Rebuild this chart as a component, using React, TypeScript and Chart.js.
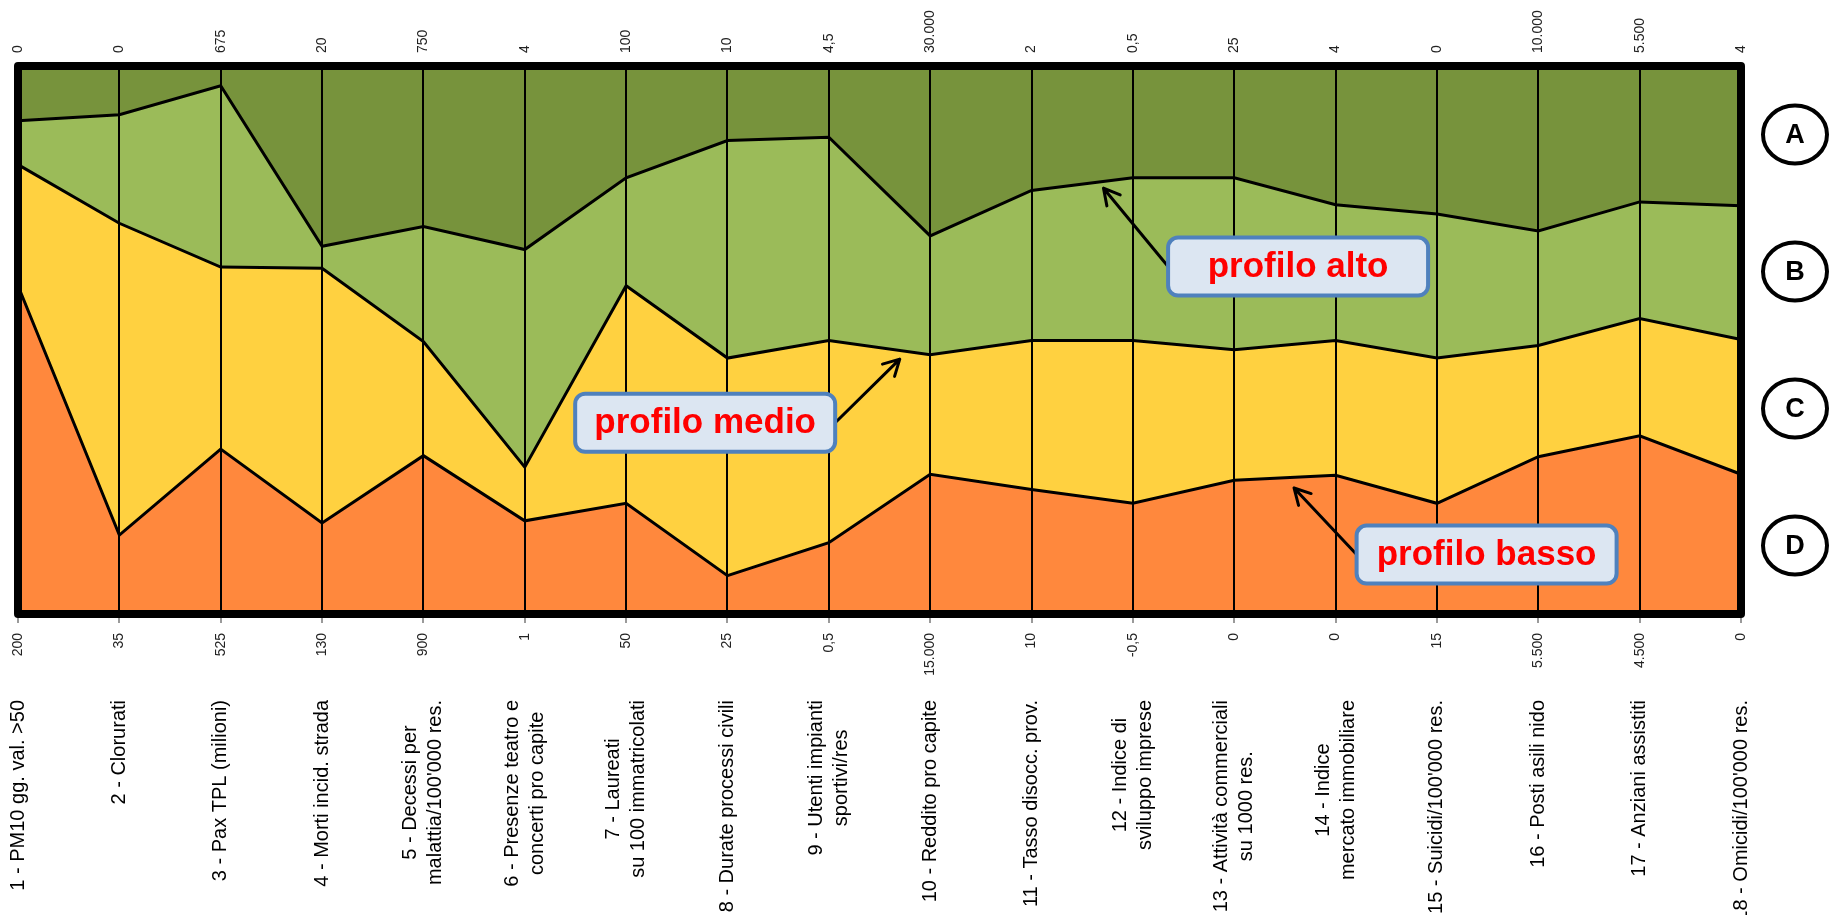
import React, { useEffect, useRef } from 'react';
import { Chart, registerables } from 'chart.js';

Chart.register(...registerables);

// ---------- data ----------
const categories: string[][] = [
  ['1 - PM10 gg. val. >50'],
  ['2 - Clorurati'],
  ['3 - Pax TPL (milioni)'],
  ['4 - Morti incid. strada'],
  ['5 - Decessi per', "malattia/100'000 res."],
  ['6 - Presenze teatro e', 'concerti pro capite'],
  ['7 - Laureati', 'su 100 immatricolati'],
  ['8 - Durate processi civili'],
  ['9 - Utenti impianti', 'sportivi/res'],
  ['10 - Reddito pro capite'],
  ['11 - Tasso disocc. prov.'],
  ['12 - Indice di', 'sviluppo imprese'],
  ['13 - Attività commerciali', 'su 1000 res.'],
  ['14 - Indice', 'mercato immobiliare'],
  ["15 - Suicidi/100'000 res."],
  ['16 - Posti asili nido'],
  ['17 - Anziani assistiti'],
  ["18 - Omicidi/100'000 res."],
];

const topTicks = ['0', '0', '675', '20', '750', '4', '100', '10', '4,5', '30.000', '2', '0,5', '25', '4', '0', '10.000', '5.500', '4'];
const bottomTicks = ['200', '35', '525', '130', '900', '1', '50', '25', '0,5', '15.000', '10', '-0,5', '0', '0', '15', '5.500', '4.500', '0'];

const profiloAlto = [90.0, 91.1, 96.4, 67.1, 70.7, 66.5, 79.6, 86.4, 87.0, 69.0, 77.3, 79.6, 79.6, 74.7, 73.0, 69.9, 75.2, 74.5];
const profiloMedio = [82.0, 71.3, 63.3, 63.1, 49.7, 26.8, 59.9, 46.7, 49.9, 47.3, 49.9, 49.9, 48.2, 49.9, 46.7, 49.0, 53.9, 50.1];
const profiloBasso = [59.9, 14.4, 30.1, 16.6, 28.9, 17.0, 20.2, 7.0, 13.0, 25.5, 22.7, 20.2, 24.4, 25.3, 20.2, 28.7, 32.5, 25.5];

const bandLabels = ['A', 'B', 'C', 'D'];

// callouts: box centre and arrow tip in data coordinates (category index, value)
const calloutTexts = ['profilo alto', 'profilo medio', 'profilo basso'];
const calloutBoxX = [12.63, 6.78, 14.49];
const calloutBoxY = [63.4, 34.9, 10.85];
const calloutTipX = [10.71, 8.70, 12.59];
const calloutTipY = [77.7, 46.5, 23.0];

// ---------- style ----------
const COL_TOP = '#77933C';
const COL_HIGH = '#9BBB59';
const COL_MID = '#FFD140';
const COL_LOW = '#FF883D';
const TICK_FONT = "'Liberation Sans', Arial, sans-serif";
const LABEL_FONT = "'Liberation Sans', Arial, sans-serif";
const TICK_SIZE = 14;

function roundRect(ctx: CanvasRenderingContext2D, x: number, y: number, w: number, h: number, r: number) {
  ctx.beginPath();
  ctx.moveTo(x + r, y);
  ctx.lineTo(x + w - r, y);
  ctx.arcTo(x + w, y, x + w, y + r, r);
  ctx.lineTo(x + w, y + h - r);
  ctx.arcTo(x + w, y + h, x + w - r, y + h, r);
  ctx.lineTo(x + r, y + h);
  ctx.arcTo(x, y + h, x, y + h - r, r);
  ctx.lineTo(x, y + r);
  ctx.arcTo(x, y, x + r, y, r);
  ctx.closePath();
}

const decorPlugin = {
  id: 'decor',
  beforeDraw(chart: any) {
    const { ctx, chartArea: a } = chart;
    ctx.save();
    ctx.fillStyle = COL_TOP;
    ctx.fillRect(a.left, a.top, a.right - a.left, a.bottom - a.top);
    ctx.restore();
  },
  afterDraw(chart: any) {
    const { ctx, chartArea: a, scales } = chart;
    const xs = scales.x;
    const ys = scales.y;
    ctx.save();

    // frame
    ctx.lineWidth = 8;
    ctx.strokeStyle = '#000';
    ctx.lineJoin = 'round';
    ctx.strokeRect(a.left, a.top, a.right - a.left, a.bottom - a.top);

    // category labels (rotated, multi-line centred)
    ctx.fillStyle = '#000';
    ctx.font = `20px ${LABEL_FONT}`;
    const lh = 25;
    const yTop = a.bottom + 86;
    categories.forEach((lines, i) => {
      const x = xs.getPixelForValue(i);
      const w = Math.max(...lines.map((l) => ctx.measureText(l).width));
      ctx.save();
      ctx.translate(x, yTop);
      ctx.rotate(-Math.PI / 2);
      ctx.textAlign = 'center';
      ctx.textBaseline = 'middle';
      lines.forEach((l, j) => {
        ctx.fillText(l, -w / 2, (j - (lines.length - 1) / 2) * lh);
      });
      ctx.restore();
    });

    // band circles A-D
    const bandH = (a.bottom - a.top) / bandLabels.length;
    const cx = a.right + 54;
    bandLabels.forEach((t, i) => {
      const cy = a.top + bandH * (i + 0.5);
      ctx.beginPath();
      ctx.ellipse(cx, cy, 32, 29, 0, 0, Math.PI * 2);
      ctx.fillStyle = '#fff';
      ctx.fill();
      ctx.lineWidth = 4;
      ctx.strokeStyle = '#000';
      ctx.stroke();
      ctx.fillStyle = '#000';
      ctx.font = `bold 27px ${LABEL_FONT}`;
      ctx.textAlign = 'center';
      ctx.textBaseline = 'middle';
      ctx.fillText(t, cx, cy + 1);
    });

    // callouts
    const bw = 260;
    const bh = 58;
    calloutTexts.forEach((t, i) => {
      const bx = xs.getPixelForValue(calloutBoxX[i]);
      const by = ys.getPixelForValue(calloutBoxY[i]);
      const tx = xs.getPixelForValue(calloutTipX[i]);
      const ty = ys.getPixelForValue(calloutTipY[i]);
      const sx = tx < bx ? bx - bw / 2 : bx + bw / 2;
      const sy = by;
      // arrow
      ctx.strokeStyle = '#000';
      ctx.lineWidth = 3;
      ctx.lineCap = 'round';
      ctx.beginPath();
      ctx.moveTo(sx, sy);
      ctx.lineTo(tx, ty);
      const ang = Math.atan2(sy - ty, sx - tx);
      const hl = 18;
      const spread = 0.5;
      ctx.moveTo(tx + hl * Math.cos(ang + spread), ty + hl * Math.sin(ang + spread));
      ctx.lineTo(tx, ty);
      ctx.lineTo(tx + hl * Math.cos(ang - spread), ty + hl * Math.sin(ang - spread));
      ctx.stroke();
      // box
      roundRect(ctx, bx - bw / 2, by - bh / 2, bw, bh, 10);
      ctx.fillStyle = '#DCE6F2';
      ctx.fill();
      ctx.lineWidth = 4;
      ctx.strokeStyle = '#4F81BD';
      ctx.stroke();
      ctx.fillStyle = '#FF0000';
      ctx.font = `bold 35px ${LABEL_FONT}`;
      ctx.textAlign = 'center';
      ctx.textBaseline = 'middle';
      ctx.fillText(t, bx, by + 1);
    });

    ctx.restore();
  },
};

export default function App() {
  const ref = useRef<HTMLCanvasElement | null>(null);

  useEffect(() => {
    document.body.style.margin = '0';
    const canvas = ref.current;
    if (!canvas) return;
    const chart = new Chart(canvas, {
      type: 'line',
      data: {
        labels: categories.map((c) => c.join(' ')),
        datasets: [
          {
            label: 'profilo basso',
            data: profiloBasso,
            borderColor: '#000',
            borderWidth: 3,
            backgroundColor: COL_LOW,
            fill: 'origin',
            pointRadius: 0,
            tension: 0,
          },
          {
            label: 'profilo medio',
            data: profiloMedio,
            borderColor: '#000',
            borderWidth: 3,
            backgroundColor: COL_MID,
            fill: '-1',
            pointRadius: 0,
            tension: 0,
          },
          {
            label: 'profilo alto',
            data: profiloAlto,
            borderColor: '#000',
            borderWidth: 3,
            backgroundColor: COL_HIGH,
            fill: '-1',
            pointRadius: 0,
            tension: 0,
          },
        ],
      },
      options: {
        animation: false,
        responsive: false,
        devicePixelRatio: 1,
        layout: { padding: { left: 18, right: 90, top: 0, bottom: 0 } },
        plugins: {
          legend: { display: false },
          tooltip: { enabled: false },
        },
        scales: {
          x: {
            type: 'category',
            labels: bottomTicks,
            position: 'bottom',
            offset: false,
            grid: {
              z: 1,
              color: '#000',
              lineWidth: 2,
              drawTicks: true,
              tickLength: 9,
              tickColor: '#9a9a9a',
              tickWidth: 2,
            },
            border: { display: false },
            ticks: {
              autoSkip: false,
              minRotation: 90,
              maxRotation: 90,
              padding: 10,
              color: '#222',
              font: { family: TICK_FONT, size: TICK_SIZE },
            },
            afterFit: (s: any) => {
              s.height = 301;
              s.paddingLeft = 0;
              s.paddingRight = 0;
            },
          },
          xTop: {
            type: 'category',
            labels: topTicks,
            position: 'top',
            offset: false,
            grid: { display: false, drawTicks: false },
            border: { display: false },
            ticks: {
              autoSkip: false,
              minRotation: 90,
              maxRotation: 90,
              padding: 13,
              labelOffset: TICK_SIZE * 1.2,
              color: '#222',
              font: { family: TICK_FONT, size: TICK_SIZE },
            },
            afterFit: (s: any) => {
              s.height = 66;
              s.paddingLeft = 0;
              s.paddingRight = 0;
            },
          },
          y: {
            display: false,
            min: 0,
            max: 100,
          },
        },
      },
      plugins: [decorPlugin],
    });
    return () => chart.destroy();
  }, []);

  return (
    <div style={{ position: 'absolute', left: 0, top: 0, width: 1831, height: 915, background: '#fff' }}>
      <canvas ref={ref} width={1831} height={915} style={{ width: 1831, height: 915, display: 'block' }} />
    </div>
  );
}
